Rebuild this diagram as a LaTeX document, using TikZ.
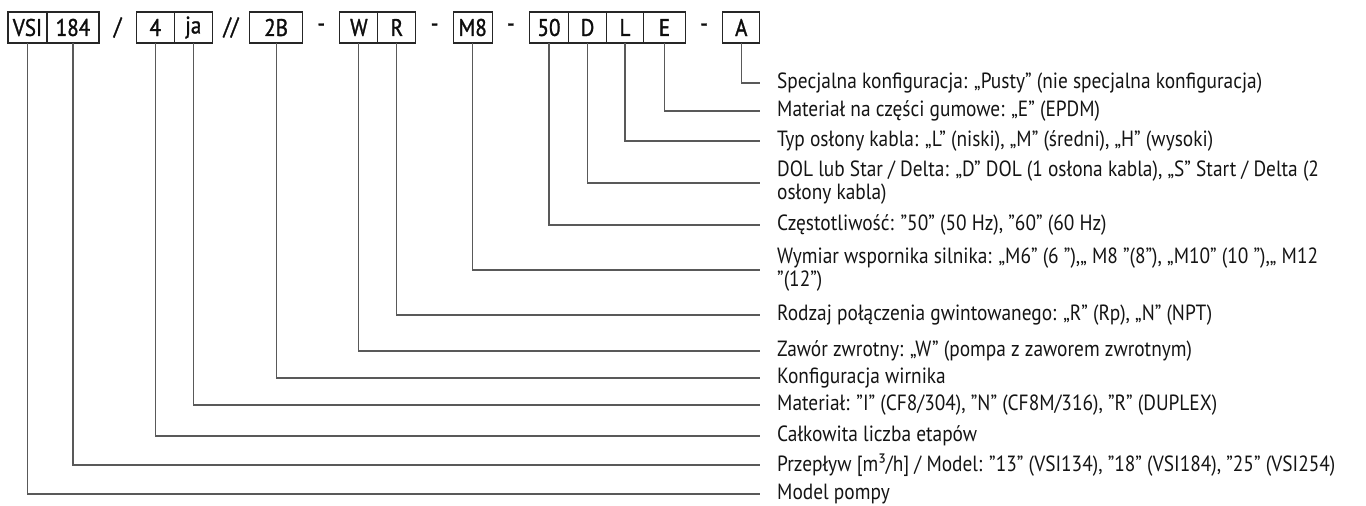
\documentclass[tikz,border=0pt]{standalone}
\usepackage{fontspec}
\setmainfont{PT Sans}[FakeStretch=0.88]
\newfontfamily\codefont{PT Sans}[FakeStretch=0.88, FakeBold=1.2]
\usetikzlibrary{positioning}

\begin{document}
\begin{tikzpicture}[
    x=1pt, y=-1pt,
    node distance=0pt,
    codebox/.style={rectangle, draw=black!85, line width=1.1pt, minimum height=31pt, inner sep=0pt, outer sep=0pt, font=\codefont\fontsize{24}{24}\selectfont, text=black!95},
    sepmark/.style={rectangle, minimum width=37.3pt, minimum height=31pt, inner sep=0pt, outer sep=0pt, font=\codefont\fontsize{24}{24}\selectfont, text=black!95},
    desc/.style={anchor=west, inner xsep=17pt, inner ysep=0pt, align=left, font=\fontsize{22}{23}\selectfont, text=black!92},
    line/.style={draw=black!65, line width=1.1pt}
]
    \useasboundingbox (0,0) rectangle (1366,506);

    % code boxes
    \node[codebox, minimum width=39pt, anchor=north west] (vsi) at (8,12) {VSI};
    \node[codebox, minimum width=52pt, right=of vsi] (flow) {184};
    \node[sepmark, right=of flow] (sl1) {/};
    \node[codebox, minimum width=38pt, right=of sl1] (stages) {4};
    \node[codebox, minimum width=38pt, right=of stages] (mat) {ja};
    \node[sepmark, right=of mat] (sl2) {//};
    \node[codebox, minimum width=53pt, right=of sl2] (impeller) {2B};
    \node[sepmark, right=of impeller] (d1) {-};
    \node[codebox, minimum width=38pt, right=of d1] (valve) {W};
    \node[codebox, minimum width=38pt, right=of valve] (thread) {R};
    \node[sepmark, right=of thread] (d2) {-};
    \node[codebox, minimum width=39pt, right=of d2] (bracket) {M8};
    \node[sepmark, right=of bracket] (d3) {-};
    \node[codebox, minimum width=39pt, right=of d3] (freq) {50};
    \node[codebox, minimum width=38pt, right=of freq] (starter) {D};
    \node[codebox, minimum width=37pt, right=of starter] (cable) {L};
    \node[codebox, minimum width=42pt, right=of cable] (rubber) {E};
    \node[sepmark, right=of rubber] (d4) {-};
    \node[codebox, minimum width=37pt, right=of d4] (special) {A};

    % descriptions
    \node[desc] (t_special) at (760,83) {Specjalna konfiguracja: „Pusty” (nie specjalna konfiguracja)};
    \node[desc] (t_rubber) at (760,111) {Materiał na części gumowe: „E” (EPDM)};
    \node[desc] (t_cable) at (760,141) {Typ osłony kabla: „L” (niski), „M” (średni), „H” (wysoki)};
    \node[desc] (t_starter) at (760,183) {DOL lub Star / Delta: „D” DOL (1 osłona kabla), „S” Start / Delta (2\\osłony kabla)};
    \node[desc] (t_freq) at (760,225) {Częstotliwość: "50" (50 Hz), "60" (60 Hz)};
    \node[desc] (t_bracket) at (760,270) {Wymiar wspornika silnika: „M6” (6 ”),„ M8 ”(8”), „M10” (10 ”),„ M12\\”(12”)};
    \node[desc] (t_thread) at (760,315) {Rodzaj połączenia gwintowanego: „R” (Rp), „N” (NPT)};
    \node[desc] (t_valve) at (760,351) {Zawór zwrotny: „W” (pompa z zaworem zwrotnym)};
    \node[desc] (t_impeller) at (760,378) {Konfiguracja wirnika};
    \node[desc] (t_mat) at (760,405) {Materiał: "I" (CF8/304), "N" (CF8M/316), "R" (DUPLEX)};
    \node[desc] (t_stages) at (760,436) {Całkowita liczba etapów};
    \node[desc] (t_flow) at (760,465) {Przepływ [m³/h] / Model: "13" (VSI134), "18" (VSI184), "25" (VSI254)};
    \node[desc] (t_vsi) at (760,494) {Model pompy};

    % leaders
    \draw[line] (special) |- (t_special.west);
    \draw[line] (rubber) |- (t_rubber.west);
    \draw[line] (cable) |- (t_cable.west);
    \draw[line] (starter) |- (t_starter.west);
    \draw[line] (freq) |- (t_freq.west);
    \draw[line] (bracket) |- (t_bracket.west);
    \draw[line] (thread) |- (t_thread.west);
    \draw[line] (valve) |- (t_valve.west);
    \draw[line] (impeller) |- (t_impeller.west);
    \draw[line] (mat) |- (t_mat.west);
    \draw[line] (stages) |- (t_stages.west);
    \draw[line] (flow) |- (t_flow.west);
    \draw[line] (vsi) |- (t_vsi.west);
\end{tikzpicture}
\end{document}
